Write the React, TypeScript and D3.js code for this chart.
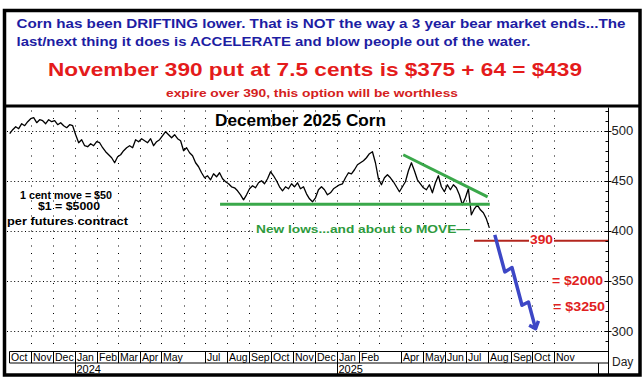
import React from 'react';
import * as d3 from 'd3';

// chart size
const W = 644;
const H = 384;

// December 2025 corn (cents/bu), one value about every 4 days
const priceStart = '2023-10-02';
const priceStepDays = 4.19;
const prices = [
  497, 501, 504, 502, 507, 505, 509, 512, 513, 508, 511, 510, 507, 511, 509, 510,
  506, 508, 505, 503, 506, 505, 496, 488, 491, 485, 484, 487, 485, 489, 488, 483,
  479, 476, 473, 468, 474, 476, 480, 483, 485, 483, 491, 489, 492, 490, 488, 492,
  485, 489, 491, 495, 499, 496, 493, 496, 492, 490, 480, 483, 478, 475, 468, 464,
  458, 453, 455, 451, 457, 454, 458, 452, 449, 447, 444, 443, 440, 436, 431, 436,
  442, 445, 443, 448, 450, 447, 452, 459, 455, 450, 444, 440, 444, 442, 447, 444,
  448, 442, 444, 437, 432, 429, 433, 441, 444, 441, 436, 438, 442, 444, 446, 447,
  453, 458, 457, 461, 466, 468, 470, 473, 477, 479, 468, 452, 446, 453, 456, 453,
  449, 444, 439, 444, 449, 460, 468, 460, 451, 447, 443, 441, 446, 438, 448, 455,
  444, 439, 446, 441, 446, 443, 436, 426, 433, 442, 416, 422, 426, 421, 418, 412,
  403,
];

// month axis
const monthTicks = [
  '2023-10-01', '2023-11-01', '2023-12-01', '2024-01-01', '2024-02-01', '2024-03-01',
  '2024-04-01', '2024-05-01', '2024-06-01', '2024-07-01', '2024-08-01', '2024-09-01',
  '2024-10-01', '2024-11-01', '2024-12-01', '2025-01-01', '2025-02-01', '2025-03-01',
  '2025-04-01', '2025-05-01', '2025-06-01', '2025-07-01', '2025-08-01', '2025-09-01',
  '2025-10-01', '2025-11-01',
];
const monthNames = [
  'Oct', 'Nov', 'Dec', 'Jan', 'Feb', 'Mar', 'Apr', 'May', '', 'Jul', 'Aug', 'Sep',
  'Oct', 'Nov', 'Dec', 'Jan', 'Feb', '', 'Apr', 'May', 'Jun', 'Jul', 'Aug', 'Sep',
  'Oct', 'Nov',
];
const yearTicks = ['2024-01-01', '2025-01-01', '2026-01-01'];
const yearNames = ['2024', '2025', ''];

// price axis
const yTicks = [300, 350, 400, 450, 500];
const yMinorTicks = d3.range(290, 521, 10);

// drawn annotations
const supportLine = [['2024-07-22', 426.5], ['2025-08-03', 426.5]];
const trendLine = [['2025-04-04', 476], ['2025-07-31', 434]];
const strikeStart = '2025-07-12';
const strikeLevel = 390;
const projection = [
  ['2025-08-10', 396], ['2025-08-24', 359], ['2025-09-03', 363.4],
  ['2025-09-17', 325.7], ['2025-09-26', 329], ['2025-10-06', 302.4],
];
const arrowHead = [['2025-09-27', 305.7], ['2025-10-06', 302.4], ['2025-10-10', 310]];

const parse = d3.timeParse('%Y-%m-%d');
const FONT = 'Arial, "Liberation Sans", sans-serif';

// bold text squeezed/stretched to the measured width
const Fit = ({ x, y, w, size, fill = '#000', anchor = 'start', children }: any) => (
  <text x={x} y={y} fontSize={size} fontWeight="bold" fill={fill} textAnchor={anchor}
    textLength={w} lengthAdjust="spacingAndGlyphs">{children}</text>
);

export default function App() {
  const x = d3.scaleTime()
    .domain([parse('2023-10-01')!, parse('2025-10-01')!])
    .range([9, 532]);
  const y = d3.scaleLinear().domain([300, 500]).range([331, 130.7]);

  const plotTop = 107.5;
  const axisX = 608.5;
  const monthRowTop = 351.5;
  const yearRowTop = 363;
  const bottom = 374;

  const t0 = parse(priceStart)!.getTime();
  const series = prices.map((p, i) => ({ date: new Date(t0 + i * priceStepDays * 864e5), p }));

  const line = d3.line<{ date: Date; p: number }>()
    .x(d => x(d.date))
    .y(d => y(d.p));
  const pairLine = d3.line<(string | number)[]>()
    .x(d => x(parse(d[0] as string)!))
    .y(d => y(d[1] as number));

  const strikeY = y(strikeLevel);

  return (
    <svg width={W} height={H} style={{ position: 'absolute', left: 0, top: 0, background: '#fff' }}
      fontFamily={FONT}>
      <rect x={0} y={0} width={W} height={H} fill="#fff" />

      {/* header text */}
      <Fit x={16.5} y={27.5} w={609} size={13.5} fill="#1d1da3">
        Corn has been DRIFTING lower. That is NOT the way a 3 year bear market ends...The
      </Fit>
      <Fit x={16.5} y={45.5} w={514} size={13.5} fill="#1d1da3">
        last/next thing it does is ACCELERATE and blow people out of the water.
      </Fit>
      <Fit x={48} y={76} w={534} size={18.5} fill="#e41b1b">
        November 390 put at 7.5 cents is $375 + 64 = $439
      </Fit>
      <Fit x={166} y={97} w={292} size={11} fill="#d42020">
        expire over 390, this option will be worthless
      </Fit>

      {/* grid */}
      {yTicks.map(t => (
        <line key={'hg' + t} x1={7} x2={axisX - 3} y1={Math.round(y(t)) + 0.5} y2={Math.round(y(t)) + 0.5}
          stroke="#000" strokeWidth={1} strokeDasharray="1,2.6" />
      ))}
      {monthTicks.slice(1).map(d => {
        const xx = Math.round(x(parse(d)!)) + 0.5;
        return <line key={'vg' + d} x1={xx} x2={xx} y1={plotTop + 3} y2={monthRowTop - 2}
          stroke="#000" strokeWidth={1} strokeDasharray="1,6.5" />;
      })}

      {/* title and notes */}
      <Fit x={215} y={126} w={171} size={16.5}>December 2025 Corn</Fit>
      <Fit x={20} y={198.5} w={92} size={11.5}>1 cent move = $50</Fit>
      <Fit x={38} y={209.5} w={62} size={11.5}>$1 = $5000</Fit>
      <Fit x={7} y={225} w={121} size={11.5}>per futures contract</Fit>

      {/* price */}
      <path d={line(series) || ''} fill="none" stroke="#000" strokeWidth={1.3} strokeLinejoin="round" />

      {/* green lines */}
      <path d={pairLine(supportLine as any) || ''} stroke="#3aa84a" strokeWidth={3} fill="none" />
      <path d={pairLine(trendLine as any) || ''} stroke="#3aa84a" strokeWidth={3} fill="none" />
      <rect x={255} y={224} width={216} height={11} fill="#fff" />
      <Fit x={256} y={233.3} w={214} size={11} fill="#2e9a3c">New lows...and about to MOVE—</Fit>

      {/* strike line */}
      <line x1={x(parse(strikeStart)!)} x2={axisX} y1={strikeY} y2={strikeY} stroke="#b3261e" strokeWidth={2} />
      <rect x={529} y={234} width={25} height={11} fill="#fff" />
      <Fit x={530} y={243.5} w={23} size={12} fill="#e02020">390</Fit>

      {/* projection arrow */}
      <path d={pairLine(projection as any) || ''} stroke="#3d47c6" strokeWidth={3.5} fill="none"
        strokeLinejoin="round" />
      <path d={pairLine(arrowHead as any) || ''} stroke="#3d47c6" strokeWidth={3.5} fill="none"
        strokeLinejoin="round" />

      <rect x={550} y={274} width={55} height={12} fill="#fff" />
      <Fit x={552} y={284.5} w={51} size={12.5} fill="#e02020">= $2000</Fit>
      <Fit x={553} y={310.5} w={52} size={12.5} fill="#e02020">= $3250</Fit>

      {/* right axis */}
      <line x1={axisX} x2={axisX} y1={plotTop} y2={bottom} stroke="#000" />
      {yMinorTicks.map(t => (
        <line key={'mt' + t} x1={axisX - 3} x2={axisX} y1={Math.round(y(t)) + 0.5} y2={Math.round(y(t)) + 0.5}
          stroke="#000" />
      ))}
      {yTicks.map(t => (
        <g key={'yt' + t}>
          <line x1={axisX - 4} x2={axisX + 3} y1={Math.round(y(t)) + 0.5} y2={Math.round(y(t)) + 0.5} stroke="#000" />
          <text x={611.5} y={y(t) + 4.5} fontSize={13} fill="#222">{t}</text>
        </g>
      ))}

      {/* month / year axis */}
      <line x1={9.5} x2={axisX} y1={monthRowTop} y2={monthRowTop} stroke="#000" />
      <line x1={9.5} x2={axisX} y1={yearRowTop} y2={yearRowTop} stroke="#000" />
      {monthTicks.map((d, i) => {
        if (!monthNames[i]) return null;
        const xx = Math.round(x(parse(d)!)) + 0.5;
        return (
          <g key={'mx' + d}>
            <line x1={xx} x2={xx} y1={monthRowTop} y2={yearRowTop} stroke="#000" />
            <text x={xx + 1.5} y={361} fontSize={10.5} fill="#000">{monthNames[i]}</text>
          </g>
        );
      })}
      {yearTicks.map((d, i) => {
        const xx = Math.round(x(parse(d)!)) + 0.5;
        return (
          <g key={'yx' + d}>
            <line x1={xx} x2={xx} y1={yearRowTop} y2={bottom} stroke="#000" />
            <text x={xx + 1} y={372.5} fontSize={11} fill="#000">{yearNames[i]}</text>
          </g>
        );
      })}
      <text x={612} y={366} fontSize={12} fill="#222">Day</text>

      {/* frame */}
      <rect x={4.5} y={10.5} width={635.5} height={364.5} fill="none" stroke="#000" strokeWidth={3.5} />
      <line x1={4.5} x2={640} y1={106} y2={106} stroke="#000" strokeWidth={3} />
    </svg>
  );
}
